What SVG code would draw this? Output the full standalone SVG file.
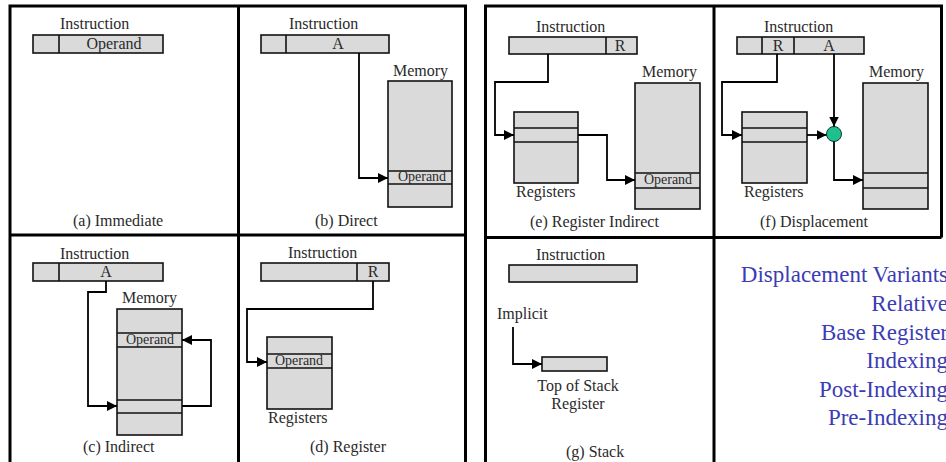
<svg xmlns="http://www.w3.org/2000/svg" width="946" height="462" viewBox="0 0 946 462">
<defs>
<style>
.frame{fill:none;stroke:#000;stroke-width:3}
.box{fill:#dadada;stroke:#111;stroke-width:1.6}
.div{stroke:#111;stroke-width:1.6;fill:none}
.t{font-family:'Liberation Serif','Times New Roman',serif;font-size:16px;fill:#2a2a2a}
.s{font-family:'Liberation Serif','Times New Roman',serif;font-size:14px;fill:#2a2a2a}
.c{text-anchor:middle}
.blue{font-family:'Liberation Serif','Times New Roman',serif;font-size:23px;fill:#3c3cb4;text-anchor:end}
.con{fill:none;stroke:#000;stroke-width:1.8}
</style>
<marker id="ah" markerUnits="userSpaceOnUse" markerWidth="10" markerHeight="10" refX="10" refY="5" orient="auto">
<path d="M0,0 L10,5 L0,10 z" fill="#000"/>
</marker>
</defs>
<rect width="946" height="462" fill="#fff"/>
<g id="frames">
<path class="frame" d="M10,462 V6 H465.5 V462 M238.5,6 V462 M10,235 H465.5"/>
<path class="frame" d="M485.5,462 V6 H941.5 V237.5 M714,6 V462 M485.5,237.5 H941.5"/>
</g>
<g id="panel-a">
<text class="t" x="60" y="29">Instruction</text>
<rect class="box" x="33" y="35" width="130" height="18"/>
<line class="div" x1="59" y1="35" x2="59" y2="53"/>
<text class="t c" x="114" y="49">Operand</text>
<text class="t" x="73" y="226">(a) Immediate</text>
</g>
<g id="panel-b">
<text class="t" x="289" y="29">Instruction</text>
<rect class="box" x="261" y="35" width="128" height="18"/>
<line class="div" x1="286" y1="35" x2="286" y2="53"/>
<text class="t c" x="338" y="49">A</text>
<text class="t" x="393" y="76">Memory</text>
<rect class="box" x="388" y="81" width="64" height="126"/>
<path class="div" d="M388,171 H452 M388,184 H452"/>
<text class="s c" x="422" y="181">Operand</text>
<text class="t" x="315" y="226">(b) Direct</text>
</g>
<g id="panel-c">
<text class="t" x="60" y="259">Instruction</text>
<rect class="box" x="33" y="263" width="130" height="18"/>
<line class="div" x1="59" y1="263" x2="59" y2="281"/>
<text class="t c" x="106" y="277">A</text>
<text class="t" x="122" y="303">Memory</text>
<rect class="box" x="117" y="309" width="65" height="126"/>
<path class="div" d="M117,333 H182 M117,347 H182 M117,400 H182 M117,413 H182"/>
<text class="s c" x="150" y="344">Operand</text>
<text class="t" x="83" y="452">(c) Indirect</text>
</g>
<g id="panel-d">
<text class="t" x="288" y="258">Instruction</text>
<rect class="box" x="261" y="263" width="128" height="18"/>
<line class="div" x1="357" y1="263" x2="357" y2="281"/>
<text class="t c" x="373" y="277">R</text>
<rect class="box" x="267" y="337" width="65" height="72"/>
<path class="div" d="M267,354 H332 M267,368 H332"/>
<text class="s c" x="299" y="365">Operand</text>
<text class="t" x="268" y="423">Registers</text>
<text class="t" x="310" y="452">(d) Register</text>
</g>
<g id="panel-e">
<text class="t" x="536" y="32">Instruction</text>
<rect class="box" x="509" y="37" width="128" height="17"/>
<line class="div" x1="606" y1="37" x2="606" y2="54"/>
<text class="t c" x="620" y="51">R</text>
<rect class="box" x="514" y="112" width="64" height="71"/>
<path class="div" d="M514,128 H578 M514,142 H578"/>
<text class="t" x="516" y="197">Registers</text>
<text class="t" x="642" y="77">Memory</text>
<rect class="box" x="635" y="83" width="65" height="126"/>
<path class="div" d="M635,173 H700 M635,188 H700"/>
<text class="s c" x="668" y="184">Operand</text>
<text class="t" x="530" y="227">(e) Register Indirect</text>
</g>
<g id="panel-f">
<text class="t" x="764" y="32">Instruction</text>
<rect class="box" x="737" y="37" width="127" height="17"/>
<path class="div" d="M762,37 V54 M794,37 V54"/>
<text class="t c" x="778" y="51">R</text>
<text class="t c" x="829" y="51">A</text>
<rect class="box" x="742" y="112" width="65" height="71"/>
<path class="div" d="M742,128 H807 M742,142 H807"/>
<text class="t" x="744" y="197">Registers</text>
<circle cx="834" cy="134" r="7.5" fill="#1fbf8f" stroke="#0b3a2c" stroke-width="1"/>
<text class="t" x="869" y="77">Memory</text>
<rect class="box" x="863" y="83" width="65" height="126"/>
<path class="div" d="M863,173 H928 M863,188 H928"/>
<text class="t" x="760" y="227">(f) Displacement</text>
</g>
<g id="panel-g">
<text class="t" x="536" y="260">Instruction</text>
<rect class="box" x="509" y="265" width="128" height="17"/>
<text class="t" x="497" y="319">Implicit</text>
<rect class="box" x="542" y="357" width="65" height="14"/>
<text class="t c" x="578" y="391">Top of Stack</text>
<text class="t c" x="578" y="409">Register</text>
<text class="t" x="566" y="457">(g) Stack</text>
</g>
<g id="variants">
<text class="blue" x="948" y="282">Displacement Variants</text>
<text class="blue" x="948" y="311">Relative</text>
<text class="blue" x="948" y="340">Base Register</text>
<text class="blue" x="948" y="368">Indexing</text>
<text class="blue" x="948" y="397">Post-Indexing</text>
<text class="blue" x="948" y="425">Pre-Indexing</text>
</g>
<g id="connectors">
<path class="con" d="M359,53 V178 H388" marker-end="url(#ah)"/>
<path class="con" d="M106,281 V292 H88 V406 H117" marker-end="url(#ah)"/>
<path class="con" d="M182,406 H211 V340 H182" marker-end="url(#ah)"/>
<path class="con" d="M373,281 V309 H247 V362 H267" marker-end="url(#ah)"/>
<path class="con" d="M548,54 V82 H495 V135 H514" marker-end="url(#ah)"/>
<path class="con" d="M578,135 H607 V180 H635" marker-end="url(#ah)"/>
<path class="con" d="M777,54 V82 H722 V135 H742" marker-end="url(#ah)"/>
<path class="con" d="M807,135 H826.5" marker-end="url(#ah)"/>
<path class="con" d="M834,54 V126.5" marker-end="url(#ah)"/>
<path class="con" d="M834,141.5 V180 H863" marker-end="url(#ah)"/>
<path class="con" d="M513,327 V364 H542" marker-end="url(#ah)"/>
</g>
</svg>
